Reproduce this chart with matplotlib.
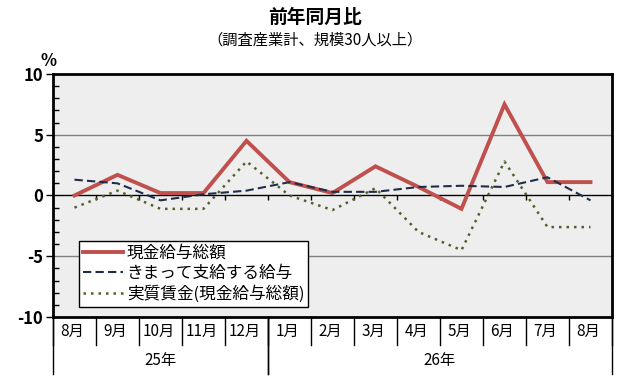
import numpy as np
import matplotlib.pyplot as plt

plt.rcParams['font.family'] = ['Noto Sans CJK JP', 'DejaVu Sans']
plt.rcParams['axes.unicode_minus'] = False

months = ['8月', '9月', '10月', '11月', '12月', '1月', '2月', '3月', '4月', '5月', '6月', '7月', '8月']
years = ['25年', '26年']
year_spans = [(0, 5), (5, 13)]  # 各年のカテゴリ範囲

genkin = [0.0, 1.7, 0.2, 0.2, 4.5, 1.1, 0.2, 2.4, 0.7, -1.1, 7.5, 1.1, 1.1]
kimatte = [1.3, 1.0, -0.4, 0.1, 0.4, 1.1, 0.3, 0.3, 0.7, 0.8, 0.7, 1.5, -0.4]
jisshitsu = [-1.0, 0.4, -1.1, -1.1, 2.8, 0.0, -1.2, 0.6, -3.0, -4.5, 2.8, -2.6, -2.6]

fig = plt.figure(figsize=(6.3, 3.8), dpi=100)
ax = fig.add_axes([0.0841, 0.1658, 0.8873, 0.6395])
ax.set_facecolor('#efeeee')

x = np.arange(len(months))
ax.set_xlim(-0.5, len(months) - 0.5)
ax.set_ylim(-10, 10)

# グリッド線と0の線
for yv in [-5, 5]:
    ax.axhline(yv, color='#808080', lw=1, zorder=1)
ax.axhline(0, color='black', lw=1, zorder=1)
# 0の線上の区切り目盛り
ax.vlines(x[:-1] + 0.5, -0.35, 0, color='black', lw=1, zorder=1)

ax.plot(x, genkin, color='#c0504d', lw=2.8, label='現金給与総額', zorder=3, solid_joinstyle='miter')
ax.plot(x, kimatte, color='#1f2d4a', lw=1.5, ls=(0, (4, 2)), label='きまって支給する給与', zorder=4)
ax.plot(x, jisshitsu, color='#4f6228', lw=1.8, ls=(0, (1, 2)), label='実質賃金(現金給与総額)', zorder=2)

for s in ax.spines.values():
    s.set_linewidth(2)

ax.set_yticks([-10, -5, 0, 5, 10])
ax.set_yticks(range(-10, 11), minor=True)
ax.tick_params(axis='y', which='major', direction='out', length=5, width=1, labelsize=12, pad=2)
ax.tick_params(axis='y', which='minor', direction='in', length=4, width=1)
for t in ax.get_yticklabels():
    t.set_fontweight('bold')
ax.set_xticks([])

# 下の表(月・年)
tr = ax.get_xaxis_transform()
for b in range(len(months) + 1):
    bx = b - 0.5
    ax.plot([bx, bx], [0, -0.115], transform=tr, color='black', lw=1, clip_on=False)
for i, m in enumerate(months):
    ax.text(i - 0.05, -0.06, m, transform=tr, ha='center', va='center', fontsize=11)
for (a, b), yl in zip(year_spans, years):
    ax.plot([a - 0.5, a - 0.5], [0, -0.235], transform=tr, color='black', lw=1, clip_on=False)
    ax.plot([b - 0.5, b - 0.5], [0, -0.235], transform=tr, color='black', lw=1, clip_on=False)
    ax.text((a + b - 1) / 2, -0.18, yl, transform=tr, ha='center', va='center', fontsize=11)

leg = ax.legend(loc='lower left', bbox_to_anchor=(0.047, 0.04), fontsize=12, frameon=True,
                fancybox=False, framealpha=1, edgecolor='black', handlelength=2.4,
                borderpad=0.25, labelspacing=0.2, handletextpad=0.2, borderaxespad=0)
leg.get_frame().set_linewidth(1)

fig.text(0.5, 0.955, '前年同月比', ha='center', va='center', fontsize=13.5, fontweight='bold')
fig.text(0.5, 0.895, '（調査産業計、規模30人以上）', ha='center', va='center', fontsize=11)
fig.text(0.077, 0.84, '%', ha='center', va='center', fontsize=12, fontweight='bold')

fig.savefig('out.png', dpi=100)
